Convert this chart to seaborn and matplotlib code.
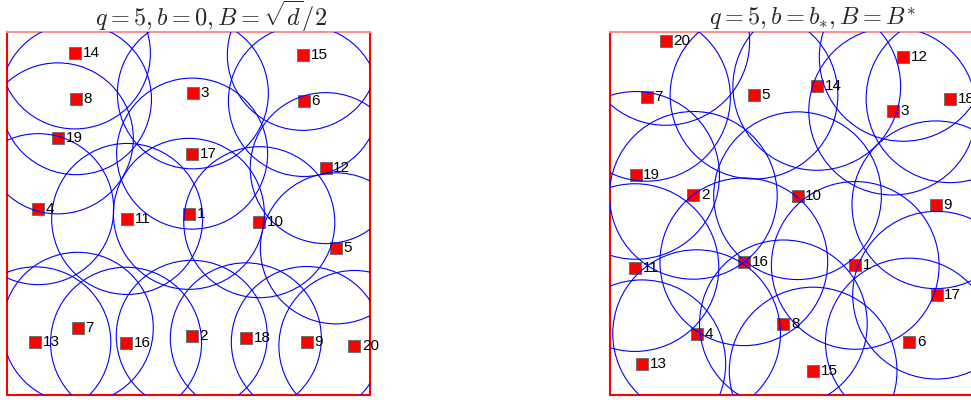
import pandas as pd
import matplotlib
matplotlib.use('Agg')
import matplotlib.pyplot as plt
from matplotlib.patches import Circle
import seaborn as sns

# point ids and positions (unit square)
labels = list(range(1, 21))

left_x = [0.501, 0.509, 0.512, 0.086, 0.906, 0.818, 0.195, 0.190, 0.826, 0.695,
          0.331, 0.878, 0.078, 0.187, 0.815, 0.328, 0.510, 0.658, 0.140, 0.957]
left_y = [0.499, 0.163, 0.831, 0.512, 0.404, 0.810, 0.185, 0.815, 0.146, 0.476,
          0.485, 0.625, 0.145, 0.941, 0.937, 0.144, 0.665, 0.156, 0.707, 0.135]

right_x = [0.677, 0.231, 0.780, 0.240, 0.398, 0.826, 0.102, 0.479, 0.899, 0.518,
           0.070, 0.809, 0.089, 0.571, 0.561, 0.370, 0.901, 0.938, 0.072, 0.155]
right_y = [0.357, 0.550, 0.782, 0.169, 0.826, 0.146, 0.820, 0.196, 0.524, 0.549,
           0.351, 0.930, 0.086, 0.850, 0.066, 0.367, 0.275, 0.816, 0.605, 0.974]

# ball radius around every point
left_radius = 0.208
right_radius = 0.231

left_title = r'$q=5, b=0, B=\sqrt{d}/2$'
right_title = r'$q=5, b=b_{*}, B=B^{*}$'

sns.set_style('white')
plt.rcParams['font.family'] = ['Liberation Sans', 'DejaVu Sans']
plt.rcParams['mathtext.fontset'] = 'cm'

fig = plt.figure(figsize=(9.71, 4), dpi=100)


def draw_panel(ax, xs, ys, radius):
    df = pd.DataFrame({'x': xs, 'y': ys, 'label': labels})
    sns.scatterplot(data=df, x='x', y='y', marker='s', s=70, color='red',
                    edgecolor='#707070', linewidth=0.7, ax=ax, zorder=2, legend=False)
    for _, row in df.iterrows():
        ax.add_patch(Circle((row['x'], row['y']), radius, fill=False,
                            edgecolor='blue', linewidth=0.8, zorder=3))
        ax.text(row['x'] + 0.021, row['y'], str(int(row['label'])), ha='left',
                va='center', fontsize=11, color='black', zorder=4)
    ax.set_xlim(0, 1)
    ax.set_ylim(0, 1)
    ax.set_xticks([])
    ax.set_yticks([])
    ax.set_xlabel('')
    ax.set_ylabel('')
    for side in ['left', 'right', 'bottom']:
        ax.spines[side].set_color('red')
        ax.spines[side].set_linewidth(1.5)
    ax.spines['top'].set_color('#ff9090')
    ax.spines['top'].set_linewidth(1.5)


ax1 = fig.add_axes([7 / 971, 5 / 400, 363 / 971, 363 / 400])
draw_panel(ax1, left_x, left_y, left_radius)

ax2 = fig.add_axes([609.5 / 971, 5 / 400, 363 / 971, 363 / 400])
draw_panel(ax2, right_x, right_y, right_radius)

fig.text(211 / 971, 1 - 25.5 / 400, left_title, ha='center', va='baseline', fontsize=17.5)
fig.text(813 / 971, 1 - 25.5 / 400, right_title, ha='center', va='baseline', fontsize=17.5)

fig.savefig('out.png', dpi=100)
